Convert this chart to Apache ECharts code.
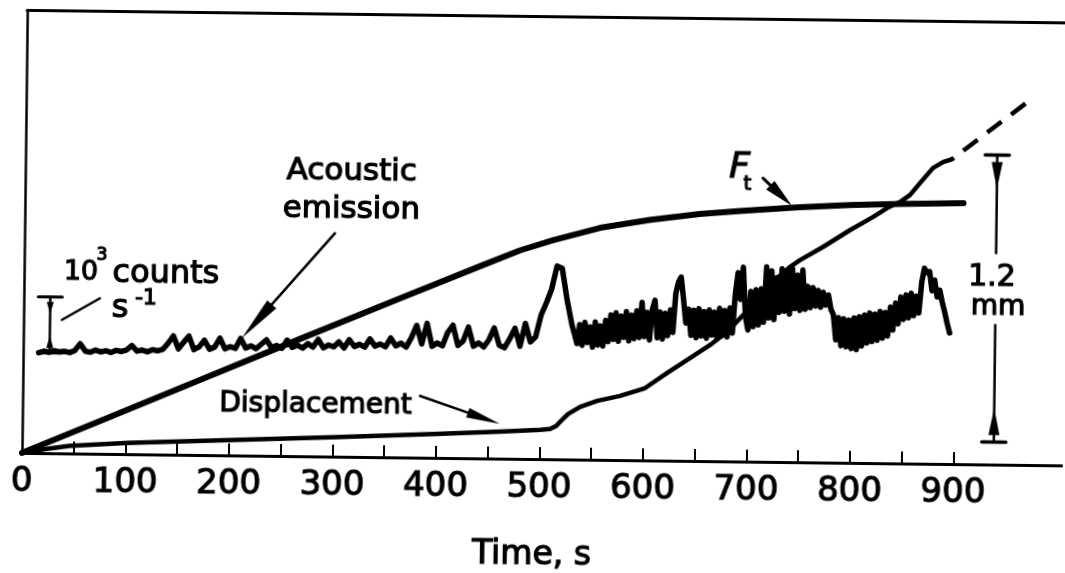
<!DOCTYPE html>
<html lang="en">
<head>
<meta charset="utf-8">
<title>Acoustic emission, displacement and force against time</title>
<script src="https://cdn.jsdelivr.net/npm/echarts@6.0.0/dist/echarts.min.js"></script>
<style>
  html, body { margin: 0; padding: 0; background: #fff; overflow: hidden; }
  /* the plotted sheet sits with a slight clockwise tilt */
  #chart { width: 1065px; height: 573px; transform: rotate(0.69deg); transform-origin: 50% 50%; }
</style>
</head>
<body>
<div id="chart"></div>
<script>
// ---- time axis (s) ----
const timeTicks = [50, 100, 150, 200, 250, 300, 350, 400, 450, 500, 550, 600, 650, 700, 750, 800, 850, 900];
const timeLabels = [0, 100, 200, 300, 400, 500, 600, 700, 800, 900];

// ---- displacement (mm) ----
const dispTime = [0, 22.2, 45.3, 102.3, 199.9, 303.3, 401.8, 461.7, 500.3, 510,
  515.8, 521.5, 527.2, 538.7, 555.1, 577.2, 601.3, 622.4, 644.5, 663.6,
  679.9, 697.1, 711.4, 725.7, 740.0, 749.6, 771.6, 797.6, 819.7, 833.1,
  845.6, 855.2, 864.7, 877.1, 886.7, 895.4];
const dispMm = [0, 0.017, 0.031, 0.047, 0.064, 0.082, 0.100, 0.113, 0.122, 0.126,
  0.139, 0.165, 0.190, 0.220, 0.246, 0.268, 0.302, 0.366, 0.430, 0.485,
  0.541, 0.621, 0.693, 0.761, 0.816, 0.845, 0.901, 0.973, 1.029, 1.067,
  1.093, 1.123, 1.173, 1.237, 1.262, 1.275];
// extrapolated continuation (dashed)
const dispExtTime = [895.4, 969];
const dispExtMm = [1.275, 1.522];

// ---- load F_t, relative to its final level ----
const forceTime = [0, 75, 171, 267, 364, 441, 479, 511, 556, 604, 652, 691, 749, 797, 846, 907];
const forceRel = [0, 0.126, 0.288, 0.450, 0.612, 0.739, 0.801, 0.842, 0.891, 0.924,
  0.949, 0.962, 0.980, 0.990, 0.997, 1.003];

// ---- acoustic emission rate (10^3 counts/s) ----
// quiet stage, every 5 s from 15 s
const aeQuietStart = 15, aeQuietStep = 5;
const aeQuiet = [
  0.00, 0.03, 0.01, 0.04, 0.02, 0.03, 0.01, 0.05, 0.17, 0.04,
  0.02, 0.06, 0.03, 0.05, 0.02, 0.06, 0.04, 0.07, 0.15, 0.05,
  0.07, 0.04, 0.08, 0.06, 0.09, 0.20, 0.33, 0.10, 0.22, 0.33,
  0.09, 0.14, 0.26, 0.10, 0.14, 0.30, 0.11, 0.15, 0.12, 0.30,
  0.13, 0.17, 0.12, 0.20, 0.28, 0.14, 0.18, 0.13, 0.28, 0.15,
  0.19, 0.14, 0.22, 0.16, 0.30, 0.15, 0.20, 0.17, 0.26, 0.15,
  0.30, 0.18, 0.22, 0.17, 0.32, 0.19, 0.23, 0.18, 0.34, 0.20,
  0.25, 0.18, 0.35, 0.57, 0.24, 0.61, 0.20, 0.26, 0.21, 0.45,
  0.58, 0.22, 0.30, 0.55, 0.21, 0.27, 0.20, 0.33, 0.54, 0.23,
  0.19, 0.35, 0.54, 0.22, 0.63, 0.30, 0.39, 0.78, 1.00, 1.25,
  1.66, 1.62, 1.06, 0.61];
// burst stage, every 2.5 s from 532.5 s
const aeBurstStart = 532.5, aeBurstStep = 2.5;
const aeBurst = [
  0.45, 0.28, 0.62, 0.25, 0.66, 0.30, 0.58, 0.22, 0.67, 0.26,
  0.60, 0.24, 0.70, 0.32, 0.80, 0.36, 0.84, 0.33, 0.78, 0.40,
  0.86, 0.34, 0.80, 0.38, 0.88, 0.40, 1.03, 0.42, 0.85, 0.36,
  0.90, 1.07, 0.40, 0.86, 0.38, 0.84, 0.44, 0.90, 0.50, 1.20,
  1.40, 1.49, 1.10, 0.67, 0.92, 0.45, 0.90, 0.41, 0.93, 0.44,
  0.88, 0.40, 0.91, 0.46, 0.87, 0.42, 0.94, 0.45, 0.90, 0.43,
  0.95, 0.50, 1.20, 1.58, 1.10, 1.68, 0.80, 0.56, 1.25, 0.62,
  1.28, 0.65, 1.30, 0.70, 1.69, 0.78, 1.62, 0.75, 1.50, 0.88,
  1.66, 0.90, 1.60, 0.85, 1.67, 0.95, 1.55, 0.92, 1.64, 0.94,
  1.35, 0.97, 1.33, 1.00, 1.28, 0.98, 1.25, 1.02, 1.20, 0.95,
  0.85, 0.40, 0.80, 0.30, 0.78, 0.28, 0.76, 0.25, 0.80, 0.23,
  0.82, 0.30, 0.85, 0.35, 0.89, 0.38, 0.87, 0.40, 0.92, 0.44,
  0.90, 0.48, 1.00, 0.59, 1.07, 0.70, 1.18, 0.78, 1.22, 0.81,
  1.25, 0.85, 1.20, 0.90, 1.45, 1.70, 1.62, 1.64, 1.30, 1.49,
  1.19, 1.31, 1.10, 0.92, 0.72, 0.55];

// ---- scale bars ----
const aeBarRate = 1;        // 10^3 counts s^-1
const aeBarTime = 25.6;
const dispBarLength = 1.2;  // mm
const dispBarBase = 0.094;
const dispBarTime = 939;

const INK = '#000';
const FAMILY = '"DejaVu Sans", "Liberation Sans", sans-serif';

// annotation anchors, in (s, mm)
const notes = {
  texts: [
    { at: [315.4, 1.111], text: 'Acoustic\nemission', size: 31, lh: 38 },
    { at: [283.1, 0.215], text: 'Displacement', size: 28 },
    { at: [690.1, 1.225], text: 'F', size: 36, italic: true },
    { at: [698.0, 1.161], text: 't', size: 20 },
    { at: [54.9, 0.755], text: '10', size: 27 },
    { at: [75.0, 0.831], text: '3', size: 17 },
    { at: [137.0, 0.755], text: 'counts', size: 32 },
    { at: [93.1, 0.606], text: 's', size: 32 },
    { at: [118.0, 0.650], text: '-1', size: 22 },
    { at: [935.3, 0.780], text: '1.2', size: 30 },
    { at: [941.5, 0.659], text: 'mm', size: 28 },
    { at: [493.5, -0.405], text: 'Time, s', size: 33 }
  ],
  arrows: [
    { from: [299.9, 0.934], to: [211.2, 0.491], head: 45, half: 6, width: 2.5 },
    { from: [384.0, 0.258], to: [461.5, 0.145], head: 34, half: 5, width: 2.5 },
    { from: [712.9, 1.186], to: [741.2, 1.071], head: 30, half: 6, width: 3 }
  ],
  leader: [[37.1, 0.558], [73.5, 0.650]],
  barGap: [0.884, 0.583]
};

function seg(a, b, w) {
  return { type: 'line', shape: { x1: a[0], y1: a[1], x2: b[0], y2: b[1] },
    style: { stroke: INK, lineWidth: w, lineCap: 'round' } };
}
function head(tip, from, len, half) {
  const dx = tip[0] - from[0], dy = tip[1] - from[1];
  const d = Math.hypot(dx, dy), ux = dx / d, uy = dy / d;
  const bx = tip[0] - ux * len, by = tip[1] - uy * len;
  return { type: 'polygon',
    shape: { points: [[tip[0], tip[1]], [bx - uy * half, by + ux * half], [bx + uy * half, by - ux * half]] },
    style: { fill: INK } };
}
function arrow(a, b, len, half, w) {
  const dx = b[0] - a[0], dy = b[1] - a[1], d = Math.hypot(dx, dy);
  const stop = [b[0] - dx / d * len * 0.8, b[1] - dy / d * len * 0.8];
  return [seg(a, stop, w), head(b, a, len, half)];
}
// vertical dimension bar: end caps, shaft (optionally broken for a label), heads near the caps
function dimBar(top, bottom, gap, o) {
  const x = top[0];
  const kids = [
    seg([x - o.cap, top[1]], [x + o.cap, top[1]], o.capWidth),
    seg([x - o.cap, bottom[1]], [x + o.cap, bottom[1]], o.capWidth)
  ];
  if (gap) {
    kids.push(seg(top, [x, gap[0]], o.width), seg([x, gap[1]], bottom, o.width));
  } else {
    kids.push(seg(top, bottom, o.width));
  }
  kids.push(head([x, top[1] + o.inset + o.len], [x, top[1]], o.len, o.half));
  kids.push(head([x, bottom[1] - o.inset - o.len], [x, bottom[1]], o.len, o.half));
  return kids;
}
function label(p, n) {
  const style = {
    text: n.text,
    font: (n.italic ? 'italic ' : '') + n.size + 'px ' + FAMILY,
    fill: INK, stroke: INK, lineWidth: 1.2,
    align: 'center', verticalAlign: 'middle',
    textAlign: 'center', textVerticalAlign: 'middle'
  };
  if (n.lh) style.lineHeight = n.lh;
  return { type: 'text', x: p[0], y: p[1], style };
}

const zip = (xs, ys) => xs.map((x, i) => [x, ys[i]]);
const aeData = aeQuiet.map((v, i) => [aeQuietStart + i * aeQuietStep, v])
  .concat(aeBurst.map((v, i) => [aeBurstStart + i * aeBurstStep, v]));

const chart = echarts.init(document.getElementById('chart'), null, { renderer: 'canvas' });

chart.setOption({
  animation: false,
  backgroundColor: '#fff',
  grid: { left: 24, right: 0, top: 16.5, bottom: 114, containLabel: false, outerBoundsMode: 'none' },
  xAxis: [
    {
      type: 'value', min: 0, max: 1006, position: 'bottom',
      axisLine: { show: true, onZero: false, lineStyle: { color: INK, width: 3 } },
      axisTick: { show: true, inside: true, length: 12, customValues: timeTicks,
        lineStyle: { color: INK, width: 2 } },
      axisLabel: { show: true, customValues: timeLabels, color: INK, fontFamily: FAMILY,
        fontSize: 34, margin: 12, textBorderColor: INK, textBorderWidth: 1.1 },
      splitLine: { show: false }
    },
    {
      type: 'value', min: 0, max: 1006, position: 'top',
      axisLine: { show: true, onZero: false, lineStyle: { color: INK, width: 3 } },
      axisTick: { show: false }, axisLabel: { show: false }, splitLine: { show: false }
    }
  ],
  yAxis: [
    { // displacement, mm
      type: 'value', min: 0, max: 1.85, position: 'left',
      axisLine: { show: true, onZero: false, lineStyle: { color: INK, width: 2.5 } },
      axisTick: { show: false }, axisLabel: { show: false }, splitLine: { show: false }
    },
    { type: 'value', min: 0, max: 1.7, show: false },          // relative load
    { type: 'value', min: -1.791, max: 6.111, show: false }     // AE rate, 10^3 counts/s
  ],
  series: [
    {
      name: 'F_t', type: 'line', xAxisIndex: 0, yAxisIndex: 1,
      data: zip(forceTime, forceRel), symbol: 'none', silent: true,
      lineStyle: { color: INK, width: 6, join: 'round', cap: 'round' }
    },
    {
      name: 'Displacement', type: 'line', xAxisIndex: 0, yAxisIndex: 0,
      data: zip(dispTime, dispMm), symbol: 'none', silent: true,
      lineStyle: { color: INK, width: 4.5, join: 'round', cap: 'round' }
    },
    {
      name: 'Displacement (extrapolated)', type: 'line', xAxisIndex: 0, yAxisIndex: 0,
      data: zip(dispExtTime, dispExtMm), symbol: 'none', silent: true,
      lineStyle: { color: INK, width: 4.5, type: [18, 12], dashOffset: 16 }
    },
    {
      name: 'Acoustic emission', type: 'line', xAxisIndex: 0, yAxisIndex: 2,
      data: aeData, symbol: 'none', silent: true,
      lineStyle: { color: INK, width: 5.5, join: 'round', cap: 'round' }
    },
    { // AE scale bar
      type: 'custom', xAxisIndex: 0, yAxisIndex: 2, silent: true, clip: false, z: 6,
      data: [[aeBarTime, aeBarRate]],
      renderItem: (params, api) => ({
        type: 'group',
        children: dimBar(api.coord([aeBarTime, aeBarRate]), api.coord([aeBarTime, 0]), null,
          { cap: 12, capWidth: 3, width: 2.5, inset: 5, len: 12, half: 3.5 })
      })
    },
    { // annotations, scale bar for displacement, axis title
      type: 'custom', xAxisIndex: 0, yAxisIndex: 0, silent: true, clip: false, z: 6,
      data: [[0, 0]],
      renderItem: (params, api) => {
        const P = v => api.coord(v);
        const kids = [];
        notes.texts.forEach(n => kids.push(label(P(n.at), n)));
        notes.arrows.forEach(a => kids.push(...arrow(P(a.from), P(a.to), a.head, a.half, a.width)));
        kids.push(seg(P(notes.leader[0]), P(notes.leader[1]), 2.5));
        const top = P([dispBarTime, dispBarBase + dispBarLength]);
        const bottom = P([dispBarTime, dispBarBase]);
        const gap = [P([dispBarTime, notes.barGap[0]])[1], P([dispBarTime, notes.barGap[1]])[1]];
        kids.push(...dimBar(top, bottom, gap,
          { cap: 12, capWidth: 3.5, width: 2.5, inset: 7, len: 27, half: 5.5 }));
        return { type: 'group', children: kids };
      }
    }
  ]
});
</script>
</body>
</html>
